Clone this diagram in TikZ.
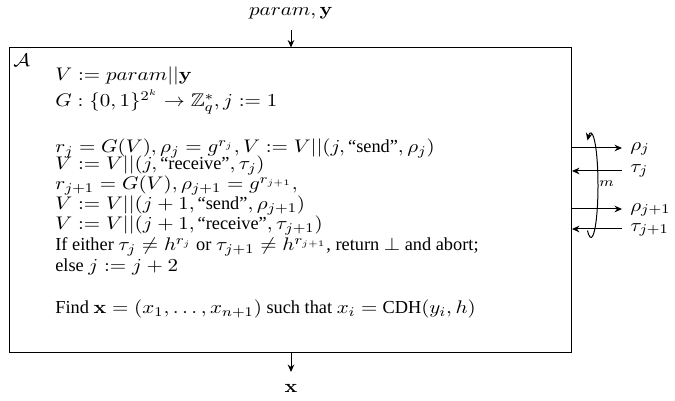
\documentclass[tikz,border=0pt]{standalone}
\usepackage{amsmath,amssymb,graphicx}
\usepackage[no-math]{fontspec}
\setmainfont{Liberation Serif}
\usetikzlibrary{arrows.meta}
\newcommand{\M}[1]{\scalebox{1.15}[1]{$#1$}}
\begin{document}
\begin{tikzpicture}[x=0.6pt,y=-0.6pt,
  font=\fontsize{11}{13}\selectfont,
  ln/.style={line width=0.6pt},
  arr/.style={ln,-{Stealth[length=4.5pt,width=4pt]}},
  txt/.style={anchor=base west,inner sep=0pt},
  lbl/.style={anchor=west,inner sep=0pt}]
\useasboundingbox (0,0) rectangle (675,401);
% main box
\node[draw,ln,minimum width=337.2pt,minimum height=183pt,inner sep=0pt] (box) at (290.5,200.5) {};
\node[anchor=north west,inner sep=0pt] (A) at (13,54) {\M{\mathcal{A}}};
% input / output
\node[inner sep=0pt] (in) at (291,13) {\M{param,\mathbf{y}}};
\coordinate (intail) at (291,30);
\draw[arr] (intail) -- (intail |- box.north);
\node[inner sep=0pt] (out) at (291,388) {\M{\mathbf{x}}};
\coordinate (outhead) at (291,372);
\draw[arr] (outhead |- box.south) -- (outhead);
% text lines
\node[txt] (l1) at (55,81) {\M{V := param||\mathbf{y}}};
\node[txt] (l2) at (55,107) {\M{G : \{0,1\}^{2^k} \rightarrow \mathbb{Z}_q^*, j := 1}};
\node[txt] (l3) at (55,153) {\M{r_j = G(V), \rho_j = g^{r_j}, V := V||(j,}\,``send''\M{, \rho_j)}};
\node[txt] (l4) at (55,170) {\M{V := V||(j,}\,``receive''\M{, \tau_j)}};
\node[txt] (l5) at (55,190) {\M{r_{j+1} = G(V), \rho_{j+1} = g^{r_{j+1}},}};
\node[txt] (l6) at (55,210) {\M{V := V||(j+1,}\,``send''\M{, \rho_{j+1})}};
\node[txt] (l7) at (55,230) {\M{V := V||(j+1,}\,``receive''\M{, \tau_{j+1})}};
\node[txt] (l8) at (55,251) {If either \M{\tau_j \neq h^{r_j}} or \M{\tau_{j+1} \neq h^{r_{j+1}}}, return \M{\bot} and abort;};
\node[txt] (l9) at (55,272) {else \M{j := j+2}};
\node[txt] (l10) at (55,314) {Find \M{\mathbf{x} = (x_1, \ldots, x_{n+1})} such that \M{x_i =}\;CDH\M{(y_i, h)}};
% right side messages
\coordinate (ra) at (622,148);
\coordinate (rb) at (622,171);
\coordinate (rc) at (622,209);
\coordinate (rd) at (622,229);
\node[lbl] (rho1) at (630,149) {\M{\rho_j}};
\node[lbl] (tau1) at (630,171) {\M{\tau_j}};
\node[lbl] (rho2) at (630,210) {\M{\rho_{j+1}}};
\node[lbl] (tau2) at (630,230) {\M{\tau_{j+1}}};
\draw[arr] (box.east |- ra) -- (ra);
\draw[arr] (rb) -- (box.east |- rb);
\draw[arr] (box.east |- rc) -- (rc);
\draw[arr] (rd) -- (box.east |- rd);
% loop
\coordinate (lc) at (591,185.5);
\draw[arr] ([shift={(-120:4.2pt and 31.2pt)}]lc) arc[start angle=-120,end angle=120,x radius=4.2pt,y radius=31.2pt];
\node[lbl,font=\footnotesize] (m) at (599,184) {\M{m}};
\end{tikzpicture}
\end{document}
